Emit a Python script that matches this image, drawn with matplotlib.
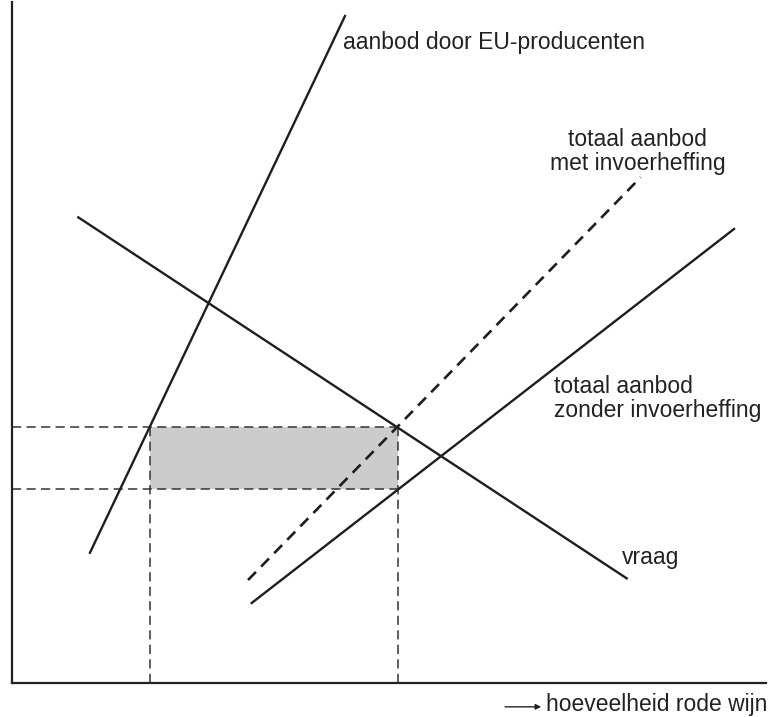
import matplotlib
matplotlib.use("Agg")
import matplotlib.pyplot as plt
from matplotlib.patches import Rectangle

plt.rcParams['font.family'] = ['Liberation Sans', 'DejaVu Sans']

# Data (quantity, price) in arbitrary units 0..100
eu_supply_q = [10.34, 44.16]
eu_supply_p = [19.13, 97.94]
demand_q = [8.79, 81.52]
demand_p = [68.38, 15.37]
levy_supply_q = [31.30, 83.38]
levy_supply_p = [15.12, 74.26]
free_supply_q = [31.79, 95.76]
free_supply_p = [11.75, 66.67]
q_eu = 18.30
q_total = 51.19
p_high = 37.55
p_low = 28.44

labels = {
    'eu': 'aanbod door EU-producenten',
    'levy': 'totaal aanbod\nmet invoerheffing',
    'free': 'totaal aanbod\nzonder invoerheffing',
    'demand': 'vraag',
    'xlabel': 'hoeveelheid rode wijn',
}

W, H = 771, 717
fig = plt.figure(figsize=(W / 100, H / 100), dpi=100)
ax = fig.add_axes([12 / W, (H - 683) / H, 754 / W, 681 / H])
ax.set_xlim(0, 100)
ax.set_ylim(0, 100)
for s in ['top', 'right']:
    ax.spines[s].set_visible(False)
for s in ['left', 'bottom']:
    ax.spines[s].set_linewidth(1.6)
    ax.spines[s].set_color('#222222')
ax.set_xticks([])
ax.set_yticks([])

col = '#1e1e1e'
# shaded area
ax.add_patch(Rectangle((q_eu, p_low), q_total - q_eu, p_high - p_low,
                       facecolor='#cccccc', edgecolor='none', zorder=1))
# dashed helper lines
dkw = dict(color='#333333', lw=1.1, dashes=(6, 3.5), zorder=2)
ax.plot([0, q_total], [p_high, p_high], **dkw)
ax.plot([0, q_total], [p_low, p_low], **dkw)
ax.plot([q_eu, q_eu], [0, p_high], **dkw)
ax.plot([q_total, q_total], [0, p_high], **dkw)

ax.plot(eu_supply_q, eu_supply_p, color=col, lw=1.7, zorder=3)
ax.plot(demand_q, demand_p, color=col, lw=1.7, zorder=3)
ax.plot(free_supply_q, free_supply_p, color=col, lw=1.7, zorder=3)
ax.plot(levy_supply_q, levy_supply_p, color=col, lw=1.9, dashes=(4.3, 2.8), zorder=3)

fs = 16.5
tc = '#222222'
ax.text(43.9, 94.1, labels['eu'], fontsize=fs, color=tc, ha='left', va='center')
ax.text(83.0, 78.1, labels['levy'], fontsize=fs, color=tc, ha='center', va='center', linespacing=1.05)
ax.text(71.9, 41.8, labels['free'], fontsize=fs, color=tc, ha='left', va='center', linespacing=1.05)
ax.text(80.9, 18.5, labels['demand'], fontsize=fs, color=tc, ha='left', va='center')

# x-axis label with arrow
t = fig.text(767 / W, 1 - 705 / H, labels['xlabel'], fontsize=fs, color=tc, ha='right', va='center')
fig.add_artist(matplotlib.text.Annotation(
    '', xy=(-0.02, 0.42), xycoords=t, xytext=(-26, 0), textcoords='offset points',
    arrowprops=dict(arrowstyle='-|>', mutation_scale=8, lw=1.0, color=tc,
                    shrinkA=0, shrinkB=0),
    annotation_clip=False))

fig.savefig('out.png', dpi=100)
